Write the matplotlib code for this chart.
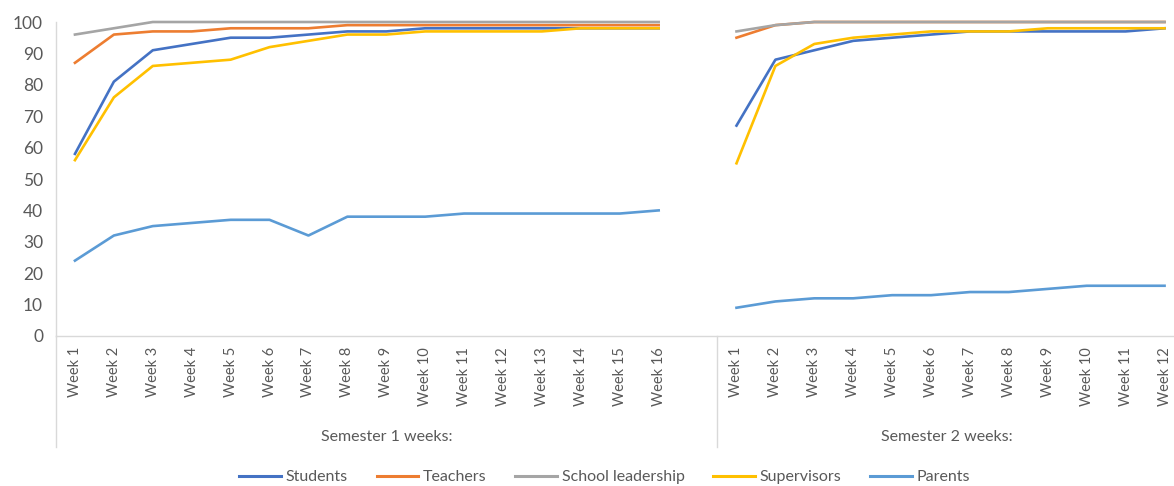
import matplotlib
matplotlib.use("Agg")
import matplotlib.pyplot as plt
import matplotlib.transforms as mtransforms
from matplotlib.lines import Line2D

plt.rcParams['font.family'] = ['Lato', 'DejaVu Sans']

# Weekly percentages per group
sem1_weeks = [f"Week {i}" for i in range(1, 17)]
sem2_weeks = [f"Week {i}" for i in range(1, 13)]
group_labels = ["Semester 1 weeks:", "Semester 2 weeks:"]

series_names = ["Students", "Teachers", "School leadership", "Supervisors", "Parents"]
series_colors = ["#4472C4", "#ED7D31", "#A5A5A5", "#FFC000", "#5B9BD5"]

students_s1 = [58, 81, 91, 93, 95, 95, 96, 97, 97, 98, 98, 98, 98, 98, 98, 98]
teachers_s1 = [87, 96, 97, 97, 98, 98, 98, 99, 99, 99, 99, 99, 99, 99, 99, 99]
leadership_s1 = [96, 98, 100, 100, 100, 100, 100, 100, 100, 100, 100, 100, 100, 100, 100, 100]
supervisors_s1 = [56, 76, 86, 87, 88, 92, 94, 96, 96, 97, 97, 97, 97, 98, 98, 98]
parents_s1 = [24, 32, 35, 36, 37, 37, 32, 38, 38, 38, 39, 39, 39, 39, 39, 40]

students_s2 = [67, 88, 91, 94, 95, 96, 97, 97, 97, 97, 97, 98]
teachers_s2 = [95, 99, 100, 100, 100, 100, 100, 100, 100, 100, 100, 100]
leadership_s2 = [97, 99, 100, 100, 100, 100, 100, 100, 100, 100, 100, 100]
supervisors_s2 = [55, 86, 93, 95, 96, 97, 97, 97, 98, 98, 98, 98]
parents_s2 = [9, 11, 12, 12, 13, 13, 14, 14, 15, 16, 16, 16]

sem1_values = [students_s1, teachers_s1, leadership_s1, supervisors_s1, parents_s1]
sem2_values = [students_s2, teachers_s2, leadership_s2, supervisors_s2, parents_s2]

text_color = "#595959"
axis_color = "#D9D9D9"

W, H = 1174, 486
fig = plt.figure(figsize=(W / 100, H / 100), dpi=100)
left_px, right_px, top_px, bottom_px = 55.5, 1184, 22, 336
ax = fig.add_axes([left_px / W, 1 - bottom_px / H,
                   (right_px - left_px) / W, (bottom_px - top_px) / H])

# Category positions: semester 1 weeks, one empty slot, then semester 2 weeks
n1, n2 = len(sem1_weeks), len(sem2_weeks)
x1 = list(range(n1))
x2 = list(range(n1 + 1, n1 + 1 + n2))

for name, color, v1, v2 in zip(series_names, series_colors, sem1_values, sem2_values):
    ax.plot(x1, v1, color=color, lw=1.9, clip_on=False, solid_joinstyle='round')
    ax.plot(x2, v2, color=color, lw=1.9, clip_on=False, solid_joinstyle='round')

ax.set_xlim(-0.5, n1 + n2 + 0.5)
ax.set_ylim(0, 100)
ax.set_yticks(range(0, 101, 10))
ax.set_xticks(x1 + x2)
ax.set_xticklabels(sem1_weeks + sem2_weeks, rotation=90, va='top', ha='center')

ax.tick_params(axis='both', length=0, colors=text_color)
ax.tick_params(axis='y', labelsize=12.5, pad=9)
ax.tick_params(axis='x', labelsize=10.5, pad=8)

for s in ['top', 'right']:
    ax.spines[s].set_visible(False)
for s in ['left', 'bottom']:
    ax.spines[s].set_color(axis_color)
    ax.spines[s].set_linewidth(1.0)

# Group separators and group captions below the week labels
trans = mtransforms.blended_transform_factory(ax.transData, ax.transAxes)
sep_bottom = -(447 - bottom_px) / (bottom_px - top_px)
for xs in [-0.5, n1 + 0.5]:
    ax.add_line(Line2D([xs, xs], [0, sep_bottom], transform=trans,
                       color=axis_color, lw=1.0, clip_on=False))

cap_y = -(437 - bottom_px) / (bottom_px - top_px)
ax.text((-0.5 + n1 + 0.5) / 2, cap_y, group_labels[0], transform=trans,
        ha='center', va='center', fontsize=11.5, color=text_color)
ax.text((n1 + 0.5 + n1 + n2 + 0.5) / 2 - 0.1, cap_y, group_labels[1], transform=trans,
        ha='center', va='center', fontsize=11.5, color=text_color)

handles = [Line2D([], [], color=c, lw=2.2) for c in series_colors]
fig.legend(handles, series_names, loc='center', bbox_to_anchor=(0.515, 1 - 477 / H),
           ncol=5, frameon=False, fontsize=11.5, labelcolor=text_color,
           handlelength=2.6, handletextpad=0.3, columnspacing=1.8)

fig.savefig("out.png", dpi=100)
